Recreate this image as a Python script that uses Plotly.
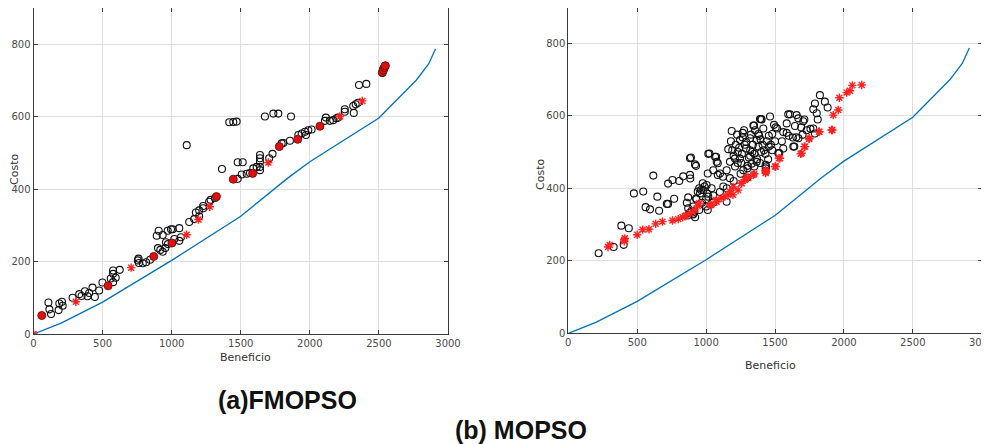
import plotly.graph_objects as go

# Blue reference front (same in both panels)
front_x = [0, 200, 500, 1000, 1500, 1840, 2000, 2500, 2770, 2860, 2910]
front_y = [0, 30, 88, 203, 325, 430, 475, 596, 700, 745, 787]

# (a) FMOPSO
a_circ_x = [108,115,127,182,187,211,206,283,331,348,372,391,403,427,444,475,499,559,576,576,576,595,624,755,763,791,815,844,760,892,906,935,959,971,995,1007,901,918,935,954,973,1019,1055,1067,1055,1127,1163,1175,1199,1199,1228,1228,1271,1314,1282,1109,1417,1446,1470,1364,1478,1514,1478,1507,1543,1567,1591,1615,1639,1639,1639,1639,1639,1706,1730,1675,1736,1772,1864,1796,1808,1856,1917,1941,1965,1989,2013,1972,2116,2109,2145,2169,2193,2205,2253,2253,2318,2314,2332,2349,2356,2409,2525,2530,2540,2548]
a_circ_y = [87,68,55,66,84,78,89,100,110,105,118,104,113,128,102,120,142,153,175,166,143,155,177,203,196,195,198,205,208,271,285,273,253,285,289,289,237,232,227,237,248,262,257,267,292,309,317,335,341,325,353,347,365,375,370,521,584,585,586,455,474,474,428,440,442,444,457,461,494,485,475,452,461,485,497,600,608,608,600,526,527,533,549,553,558,562,564,549,597,588,588,590,595,597,620,613,610,629,634,638,687,690,720,730,735,740]
a_dot_x = [60,540,870,1002,1324,1446,1586,1779,1912,2073,2525,2533,2540,2545]
a_dot_y = [51,133,214,251,379,427,443,517,537,573,722,728,735,740]
a_star_x = [0,307,707,1108,1194,1276,1699,2217,2380]
a_star_y = [0,89,183,274,316,351,473,600,643]

# (b) MOPSO
b_circ_x = [220,329,385,402,439,476,544,561,593,617,646,659,715,724,724,768,756,805,885,890,927,866,880,895,905,915,927,939,963,976,988,1000,1010,1024,1012,1073,1085,1085,1122,1012,883,919,834,883,907,870,907,956,980,1004,1040,1016,1052,1101,1077,1149,1173,1173,1209,1246,1270,1300,1330,1367,1125,1149,860,870,930,950,970,1052,1016,1065,1161,1186,1266,1246,1348,1391,1319,1367,1200,1230,1260,1290,1320,1350,1380,1230,1280,1310,1340,1370,1400,
            1826,1790,1862,1882,1778,1803,1810,1596,1609,1657,1669,1713,1403,1464,1398,1343,1493,1505,1515,1585,1645,1690,1705,1778,1757,1789,1585,1600,1630,1655,1670,1640,1633,1524,1531,1380,1395,1410,1420,1430,1440,1455,1470,1480,1500,1550,1560,1450,1435,1432,1432,1432,1392,1350,1300,1250,1200,1150,1100,1050,1000,950,920,1700,1730,1560,1480,
            1190,1215,1240,1265,1290,1325,1355,1385,1210,1255,1300,1335,1180,1225,1275,1320,1415,1455]
b_circ_y = [221,238,297,244,290,386,391,348,342,435,377,338,357,357,413,371,423,420,427,485,462,325,332,338,328,335,372,391,395,414,405,370,385,496,441,487,469,437,432,340,483,466,433,437,350,345,330,386,395,409,400,377,450,441,473,450,473,428,482,482,450,462,468,473,405,363,360,375,370,400,360,380,495,487,508,558,553,533,573,591,538,533,490,500,495,510,505,495,515,470,520,485,520,480,500,
            657,634,639,623,618,607,590,604,604,602,593,590,590,598,591,573,575,568,565,579,572,568,585,565,564,551,553,545,540,541,538,515,515,497,497,550,535,520,505,495,530,545,520,550,530,530,555,480,460,465,455,447,470,460,430,440,420,400,390,360,350,340,320,548,560,510,505,
            505,520,512,540,528,548,560,545,460,470,455,500,530,548,560,490,565,515]
b_star_x = [288,300,406,406,410,500,539,585,634,683,756,798,829,854,885,915,939,951,1037,1073,1110,1159,1195,1232,1256,1280,1306,1343,1290,1350,1432,1432,1435,1500,1505,1529,1536,1686,1694,1713,1718,1747,1749,1819,1822,1911,1916,1923,1959,1967,2020,2044,2061,2129,1028,1077,1137,1173,1197,1258]
b_star_y = [238,244,258,254,262,272,286,287,302,308,311,315,320,325,331,340,351,359,354,368,373,382,382,395,414,423,428,437,430,440,450,442,446,460,460,483,483,495,497,515,515,536,538,556,556,561,561,602,616,650,664,669,684,685,354,363,377,391,404,414]

x_ticks = [0, 500, 1000, 1500, 2000, 2500, 3000]
y_ticks = [0, 200, 400, 600, 800]
BLUE = "#0072BD"

# page has an 8px body margin: figure is sized/positioned to compensate
OFF = 8
W, H = 989 - OFF, 444 - OFF
def px(x):  # window x pixel -> paper x
    return (x - OFF) / W
def py(y):  # window y pixel -> paper y
    return 1 - (y - OFF) / H

PX_PER_UNIT = 0.3625  # vertical scale of the reference (pixels per Costo unit)
ytop_a = (334 - OFF) / PX_PER_UNIT
ytop_b = (333.3 - OFF) / PX_PER_UNIT

fig = go.Figure()

def add_panel(xa, ya, circ_x, circ_y, star_x, star_y, dot_x=None, dot_y=None):
    fig.add_trace(go.Scatter(x=front_x, y=front_y, mode="lines", line=dict(color=BLUE, width=1.3),
                             xaxis=xa, yaxis=ya, showlegend=False, hoverinfo="skip"))
    fig.add_trace(go.Scatter(x=circ_x, y=circ_y, mode="markers",
                             marker=dict(symbol="circle-open", size=7, color="#111111", line=dict(width=1.1)),
                             xaxis=xa, yaxis=ya, showlegend=False))
    if dot_x:
        fig.add_trace(go.Scatter(x=dot_x, y=dot_y, mode="markers",
                                 marker=dict(symbol="circle", size=8, color="#e01010",
                                             line=dict(color="#7a1010", width=1)),
                                 xaxis=xa, yaxis=ya, showlegend=False))
    fig.add_trace(go.Scatter(x=star_x, y=star_y, mode="markers",
                             marker=dict(symbol="asterisk-open", size=7, color="#ff2020",
                                         line=dict(color="#ff2020", width=1.4)),
                             xaxis=xa, yaxis=ya, showlegend=False))

add_panel("x", "y", a_circ_x, a_circ_y, a_star_x, a_star_y, a_dot_x, a_dot_y)
add_panel("x2", "y2", b_circ_x, b_circ_y, b_star_x, b_star_y)

axis_common = dict(showgrid=True, gridcolor="#dedede", gridwidth=1, zeroline=False,
                   showline=True, linecolor="#3a3a3a", linewidth=1, mirror="ticks",
                   ticks="inside", ticklen=4, tickcolor="#3a3a3a", automargin=False,
                   ticklabeloverflow="allow",
                   tickfont=dict(family="DejaVu Sans", size=10, color="#4a4a4a"))

def ann(text, x, y, size, family="DejaVu Sans", angle=0, color="#333333"):
    return dict(text=text, x=px(x), y=py(y), xref="paper", yref="paper", textangle=angle,
                showarrow=False, xanchor="center", yanchor="middle",
                font=dict(family=family, size=size, color=color))

fig.update_layout(
    width=W, height=H, margin=dict(l=0, r=0, t=0, b=0, autoexpand=False),
    paper_bgcolor="white", plot_bgcolor="white",
    xaxis=dict(domain=[px(33.5), px(448)], range=[0, 3000], tickvals=x_ticks, anchor="y", **axis_common),
    yaxis=dict(domain=[py(334), 1.0], range=[0, ytop_a], tickvals=y_ticks, anchor="x", **axis_common),
    xaxis2=dict(domain=[px(568.3), px(981.7)], range=[0, 3000], tickvals=x_ticks, anchor="y2", **axis_common),
    yaxis2=dict(domain=[py(333.3), 1.0], range=[0, ytop_b], tickvals=y_ticks, anchor="x2", **axis_common),
    annotations=[
        ann("Costo", 14, 170, 11, angle=-90),
        ann("Beneficio", 245, 357, 11),
        ann("Costo", 540, 175, 11, angle=-90),
        ann("Beneficio", 770, 365, 11),
        ann("<b>(a)FMOPSO</b>", 287, 400, 25, family="Liberation Sans", color="#111111"),
        ann("<b>(b) MOPSO</b>", 521, 430, 25, family="Liberation Sans", color="#111111"),
    ],
)

fig.write_html("out.html")
